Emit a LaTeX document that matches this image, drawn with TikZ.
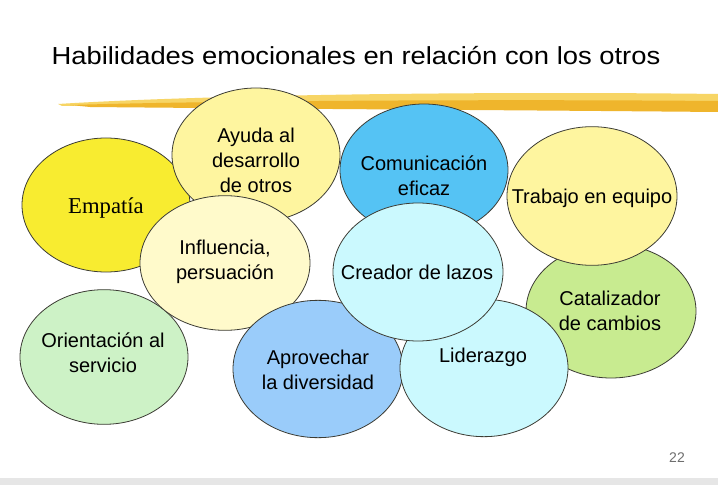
\documentclass[tikz,border=0pt]{standalone}
\usepackage{fontspec}
\setmainfont{Liberation Sans}
\newfontfamily\timesfont{Liberation Serif}
\usepackage{tikz}
\usetikzlibrary{shapes.geometric}
\definecolor{outline}{HTML}{3C3C34}
\definecolor{empyellow}{HTML}{F8EC30}
\definecolor{paleyellow}{HTML}{FEF59F}
\definecolor{creamyellow}{HTML}{FFFACB}
\definecolor{skyblue}{HTML}{55C3F4}
\definecolor{lightcyan}{HTML}{CBF9FE}
\definecolor{midblue}{HTML}{9ACCFA}
\definecolor{limegreen}{HTML}{C8EB90}
\definecolor{mintgreen}{HTML}{CDF2C6}
\definecolor{stripelight}{HTML}{F7D565}
\definecolor{stripegold}{HTML}{EFB52C}
\definecolor{bandgray}{HTML}{E6E6E6}
\definecolor{pagegray}{HTML}{6E6E6E}

\begin{document}
\begin{tikzpicture}[x=0.75pt, y=-0.75pt,
  bubble/.style={ellipse, draw=outline, line width=0.6pt, inner sep=0pt},
  txt/.style={align=center, font=\fontsize{15}{18.8}\selectfont, text=black}]
  \useasboundingbox (0,0) rectangle (718,485);
  \fill[white] (0,0) rectangle (718,485);
  % title and brush stroke
  \node[font=\fontsize{18.5}{22}\selectfont, xscale=1.11] (title) at (356,56) {Habilidades emocionales en relación con los otros};
  \fill[stripelight] (58,104) .. controls (200,95) and (480,91) .. (718,94) -- (718,104) .. controls (480,102) and (200,103) .. (62,106) -- cycle;
  \fill[stripegold] (70,105) .. controls (200,101) and (480,99) .. (718,101) -- (718,112) .. controls (500,110) and (300,109) .. (90,107) -- cycle;
  % bubbles, back to front
  \node[bubble, fill=empyellow, minimum width=126pt, minimum height=100.5pt] (emp) at (106,205) {};
  \node[txt, font=\timesfont\fontsize{17}{20}\selectfont] (emp-t) at (106,208) {Empatía};
  \node[bubble, fill=paleyellow, minimum width=126pt, minimum height=100.5pt] (ayu) at (256,155) {};
  \node[txt] (ayu-t) at (256,160) {Ayuda al\\desarrollo\\de otros};
  \node[bubble, fill=skyblue, minimum width=126pt, minimum height=99pt] (com) at (424,170) {};
  \node[txt] (com-t) at (424,176) {Comunicación\\eficaz};
  \node[bubble, fill=limegreen, minimum width=127.5pt, minimum height=100.5pt] (cat) at (611,311) {};
  \node[txt] (cat-t) at (610,311) {Catalizador\\de cambios};
  \node[bubble, fill=paleyellow, minimum width=127.5pt, minimum height=104pt] (tra) at (592,196) {};
  \node[txt] (tra-t) at (592,198) {Trabajo en equipo};
  \node[bubble, fill=mintgreen, minimum width=126pt, minimum height=101pt] (ori) at (104,357) {};
  \node[txt] (ori-t) at (103,353) {Orientación al\\servicio};
  \node[bubble, fill=creamyellow, minimum width=127.5pt, minimum height=101pt] (inf) at (225,263) {};
  \node[txt] (inf-t) at (225,262) {Influencia,\\persuación};
  \node[bubble, fill=midblue, minimum width=127.5pt, minimum height=103pt] (apr) at (318,369) {};
  \node[txt] (apr-t) at (318,370) {Aprovechar\\la diversidad};
  \node[bubble, fill=lightcyan, minimum width=126pt, minimum height=103pt] (lid) at (484,368) {};
  \node[txt] (lid-t) at (483,357) {Liderazgo};
  \node[bubble, fill=lightcyan, minimum width=127.5pt, minimum height=103.5pt] (cre) at (418,272) {};
  \node[txt] (cre-t) at (417,272) {Creador de lazos};
  % page number and footer band
  \node[text=pagegray, font=\fontsize{10.5}{12}\selectfont] (pnum) at (677,458) {22};
  \fill[bandgray] (0,478) rectangle (718,485);
\end{tikzpicture}
\end{document}
